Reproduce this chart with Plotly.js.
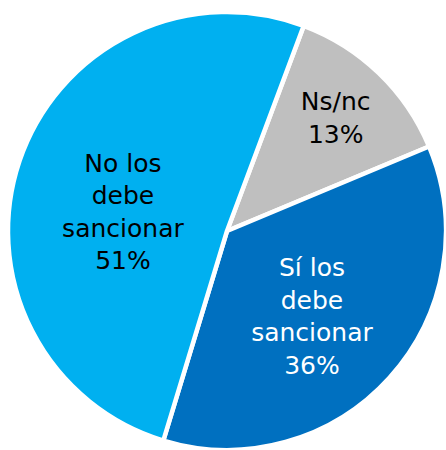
<!DOCTYPE html>
<html>
<head>
<meta charset="utf-8">
<script src="https://cdn.plot.ly/plotly-3.0.1.min.js"></script>
<style>html,body{margin:0;padding:0;background:#fff;overflow:hidden;}#chart{width:446px;height:450px;}</style>
</head>
<body>
<div id="chart"></div>
<script>
const labels = ["Ns/nc", "Sí los<br>debe<br>sancionar", "No los<br>debe<br>sancionar"];
const values = [13, 36, 51];
const colors = ["#BFBFBF", "#0070C0", "#00B0F0"];
const textColors = ["#000000", "#FFFFFF", "#000000"];
const leadLines = ["", "<span style=\"font-size:8px\">\u00a0</span><br>", "\u00a0<br>"];

Plotly.newPlot("chart", [{
  type: "pie",
  labels: labels,
  values: values,
  text: leadLines,
  sort: false,
  direction: "clockwise",
  rotation: 20.5,
  marker: {colors: colors, line: {color: "#FFFFFF", width: 4.5}},
  texttemplate: "%{text}%{label}<br>%{percent:.0%}",
  textposition: "inside",
  insidetextorientation: "horizontal",
  insidetextfont: {family: "DejaVu Sans", size: 25, color: textColors},
  hoverinfo: "none",
  showlegend: false,
  domain: {x: [8 / 446, 1], y: [0, 438 / 450]}
}], {
  width: 446,
  height: 450,
  margin: {l: 0, r: 0, t: 0, b: 0},
  paper_bgcolor: "#FFFFFF",
  showlegend: false
}, {staticPlot: true});
</script>
</body>
</html>
